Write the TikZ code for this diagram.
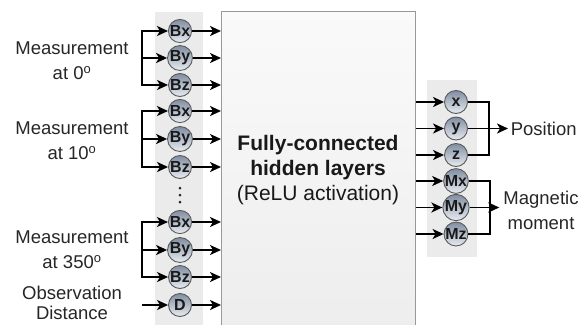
\documentclass[tikz,border=0pt]{standalone}
\usepackage{fontspec}
\setmainfont{Liberation Sans}
\usetikzlibrary{arrows.meta}
\usetikzlibrary{calc}

\definecolor{unittop}{RGB}{128,142,162}
\definecolor{unitbot}{RGB}{232,236,241}

\begin{document}
\begin{tikzpicture}[
      x=1pt, y=-1pt,
      unit/.style={circle, draw=black!65, line width=0.9pt, inner sep=0pt,
                   minimum size=23pt, top color=unittop, bottom color=unitbot,
                   text=black!90, font=\fontsize{16}{16}\selectfont\bfseries},
      lbl/.style={align=center, text=black!85,
                  font=\fontsize{18.5}{25}\selectfont},
      col/.style={fill=black!8},
      >={Stealth[length=11pt, width=10pt, inset=3pt]}, line width=1.7pt,
    ]
    \useasboundingbox (0,0) rectangle (585,324);

    % shaded columns behind the units
    \fill[col] (155,12) rectangle (203,330);
    \fill[col] (427,80) rectangle (477,257);

    % hidden layers
    \node[draw=black!40, line width=1.2pt, top color=black!2, bottom color=black!7,
          minimum width=194pt, minimum height=320pt, anchor=north west]
          (fc) at (221,11) {};
    \node[align=center, text=black!90, font=\fontsize{21}{25}\selectfont] (fctext) at (318,170)
      {\textbf{Fully-connected}\\\textbf{hidden layers}\\(ReLU activation)};

    % input units
    \foreach \n/\t/\y in {bx0/Bx/31, by0/By/58, bz0/Bz/85,
                          bx10/Bx/111, by10/By/139, bz10/Bz/167,
                          bx350/Bx/222, by350/By/250, bz350/Bz/277, dist/D/305} {
      \node[unit] (\n) at (180,\y) {\t};
      \draw[->] (\n.east) -- (\n.east -| fc.west);
    }
    % vertical dots
    \foreach \y in {188,195,202}
      \fill[black!85] (180,\y) circle (1.5pt);

    % input brackets
    \foreach \g in {0,10,350} {
      \draw[->] ([xshift=-26pt]bz\g.west) |- (bx\g);
      \draw[->] ([xshift=-26pt]bx\g.west) |- (bz\g);
      \draw[->] ([xshift=-26pt]by\g.west) -- (by\g);
    }
    \draw[->] ([xshift=-26pt]dist.west) -- (dist);

    % input labels
    \node[lbl] (m0) at (72,61) {Measurement\\at 0\textsuperscript{o}};
    \node[lbl] (m10) at (72,141) {Measurement\\at 10\textsuperscript{o}};
    \node[lbl] (m350) at (72,250) {Measurement\\at 350\textsuperscript{o}};
    \node[lbl, font=\fontsize{18.5}{20}\selectfont] (obs) at (72,303) {Observation\\Distance};

    % output units
    \foreach \n/\t/\y in {px/x/102, py/y/128.5, pz/z/155,
                          mx/Mx/181, my/My/207.5, mz/Mz/234} {
      \node[unit] (\n) at (456,\y) {\t};
      \draw[->] (\n -| fc.east) -- (\n);
    }

    % output labels
    \node[lbl, anchor=west, inner sep=2pt] (pos) at (508,128.5) {Position};
    \node[lbl] (mag) at (541,210) {Magnetic\\moment};

    % output brackets
    \draw (px.east) -- ++(21,0) |- (pz.east);
    \draw[->] (py.east) -- (pos.west);
    \draw (mx.east) -- ++(21,0) |- (mz.east);
    \draw[->] (my.east) -- (my.east -| mag.west);
\end{tikzpicture}
\end{document}
